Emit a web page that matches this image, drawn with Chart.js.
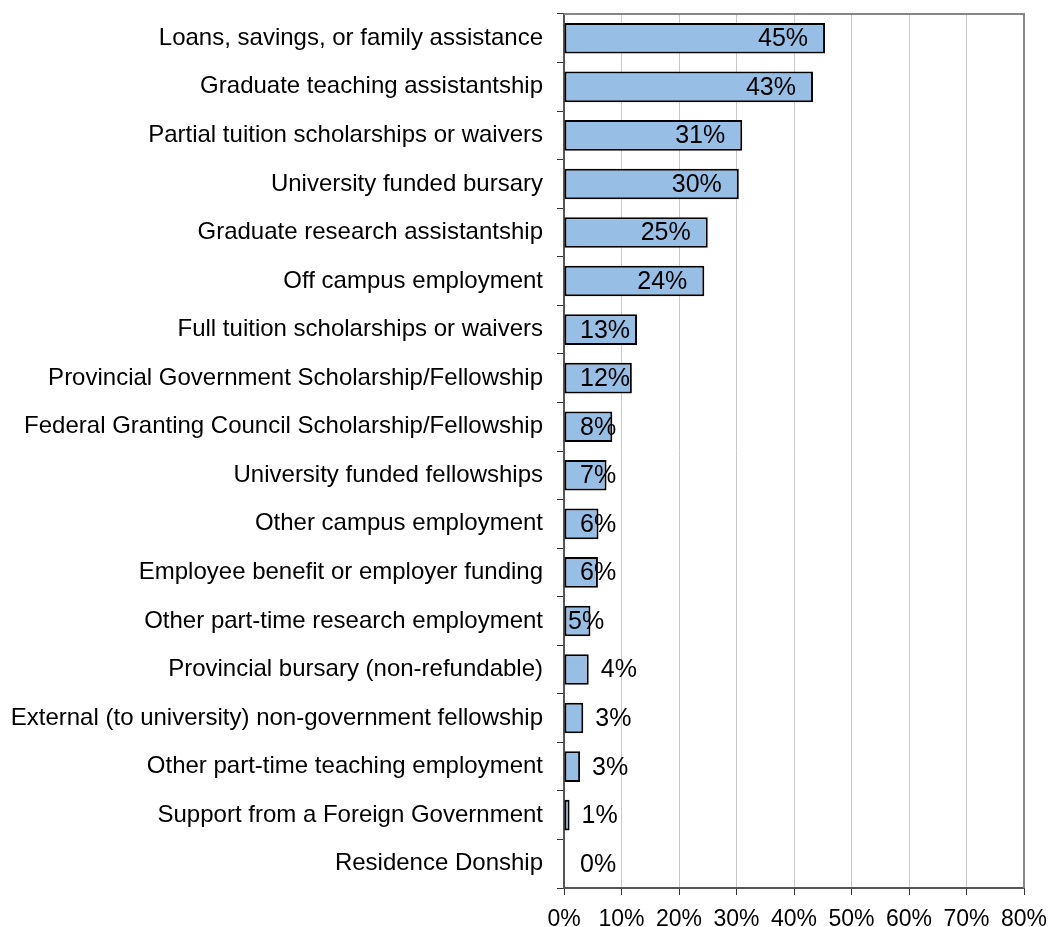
<!DOCTYPE html>
<html>
<head>
    <title>Funding sources</title>
    <script src="https://cdn.jsdelivr.net/npm/chart.js"></script>
    <style>
        body {
            margin: 0;
            background-color: white;
        }
        .wrap {
            width: 1049px;
            height: 927px;
        }
    </style>
</head>
<body>
    <div class="wrap">
        <canvas id="fundingChart"></canvas>
    </div>

    <script>
        const categories = [
            'Loans, savings, or family assistance',
            'Graduate teaching assistantship',
            'Partial tuition scholarships or waivers',
            'University funded bursary',
            'Graduate research assistantship',
            'Off campus employment',
            'Full tuition scholarships or waivers',
            'Provincial Government Scholarship/Fellowship',
            'Federal Granting Council Scholarship/Fellowship',
            'University funded fellowships',
            'Other campus employment',
            'Employee benefit or employer funding',
            'Other part-time research employment',
            'Provincial bursary (non-refundable)',
            'External (to university) non-government fellowship',
            'Other part-time teaching employment',
            'Support from a Foreign Government',
            'Residence Donship'
        ];
        const percents = [45.4, 43.3, 31.0, 30.4, 25.0, 24.4, 12.7, 11.8, 8.4, 7.4, 6.0, 5.9, 4.6, 4.3, 3.35, 2.8, 0.97, 0];
        const xTicks = [0, 10, 20, 30, 40, 50, 60, 70, 80];

        const FONT = '"Liberation Sans", Arial, sans-serif';

        // value labels: inside end for bigger bars, outside for small ones
        const valueLabels = {
            id: 'valueLabels',
            afterDatasetsDraw(chart) {
                const ctx = chart.ctx;
                const meta = chart.getDatasetMeta(0);
                const base = chart.scales.x.getPixelForValue(0);
                ctx.save();
                ctx.font = '25px ' + FONT;
                ctx.fillStyle = '#000';
                ctx.textBaseline = 'middle';
                ctx.textAlign = 'left';
                meta.data.forEach((bar, i) => {
                    const rounded = Math.round(percents[i]);
                    const text = rounded + '%';
                    const w = ctx.measureText(text).width;
                    let x;
                    if (rounded >= 5) {
                        x = Math.max(bar.x - 17 - w, rounded === 5 ? base + 4 : base + 16);
                    } else {
                        x = Math.max(bar.x + 12, base + 16);
                    }
                    ctx.fillText(text, x, bar.y + 1);
                });
                ctx.restore();
            }
        };

        // gray frame on top and right of the plot area
        const plotFrame = {
            id: 'plotFrame',
            afterDraw(chart) {
                const a = chart.chartArea;
                const ctx = chart.ctx;
                ctx.save();
                ctx.strokeStyle = '#868686';
                ctx.lineWidth = 2;
                ctx.beginPath();
                ctx.moveTo(a.left, a.top);
                ctx.lineTo(a.right, a.top);
                ctx.lineTo(a.right, a.bottom);
                ctx.stroke();
                ctx.restore();
            }
        };

        const chart = new Chart(document.getElementById('fundingChart'), {
            type: 'bar',
            data: {
                labels: categories,
                datasets: [{
                    data: percents,
                    backgroundColor: '#97bfe6',
                    borderColor: '#000',
                    borderWidth: 2,
                    borderSkipped: false,
                    barPercentage: 0.63,
                    categoryPercentage: 1
                }]
            },
            options: {
                indexAxis: 'y',
                responsive: true,
                maintainAspectRatio: false,
                animation: false,
                layout: {
                    padding: { top: 14, right: 25, left: 0, bottom: 0 }
                },
                plugins: {
                    legend: { display: false },
                    tooltip: { enabled: false }
                },
                scales: {
                    x: {
                        min: 0,
                        max: 80,
                        afterBuildTicks: scale => {
                            scale.ticks = xTicks.map(v => ({ value: v }));
                        },
                        afterFit: scale => {
                            scale.height = 39;
                            scale.paddingLeft = 0;
                            scale.paddingRight = 0;
                        },
                        grid: {
                            color: '#c8c8c8',
                            lineWidth: 1,
                            tickColor: '#333',
                            tickLength: 7
                        },
                        border: { color: '#555', width: 2 },
                        ticks: {
                            color: '#000',
                            font: { family: FONT, size: 23 },
                            padding: 11,
                            maxRotation: 0,
                            callback: v => v + '%'
                        }
                    },
                    y: {
                        afterFit: scale => {
                            scale.width = 564;
                            scale.paddingTop = 0;
                            scale.paddingBottom = 0;
                        },
                        grid: {
                            drawOnChartArea: false,
                            color: '#333',
                            tickLength: 7
                        },
                        border: { color: '#555', width: 2 },
                        ticks: {
                            color: '#000',
                            font: { family: FONT, size: 24 },
                            padding: 14,
                            autoSkip: false
                        }
                    }
                }
            },
            plugins: [valueLabels, plotFrame]
        });
    </script>
</body>
</html>
